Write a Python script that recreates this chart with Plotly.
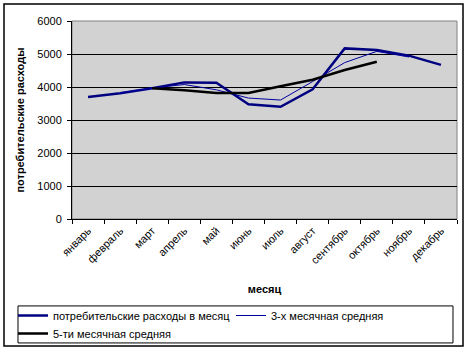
import plotly.graph_objects as go

months = ["январь", "февраль", "март", "апрель", "май", "июнь", "июль",
          "август", "сентябрь", "октябрь", "ноябрь", "декабрь"]
spending = [3700, 3810, 3960, 4140, 4130, 3475, 3400, 3930, 5170, 5120, 4950, 4670]
avg3 = [None, 3825, 3970, 4075, 3915, 3665, 3605, 4165, 4740, 5080, 4910, None]
avg5 = [None, None, 3960, 3905, 3820, 3820, 4020, 4220, 4515, 4765, None, None]

names = ["потребительские расходы в месяц", "3-х месячная средняя", "5-ти месячная средняя"]
FONT = "Arial, Liberation Sans, sans-serif"
W, H = 468, 351

fig = go.Figure()
fig.add_trace(go.Scatter(x=months, y=spending, name=names[0], mode="lines",
                         line=dict(color="#000080", width=2.5), legend="legend"))
fig.add_trace(go.Scatter(x=months, y=avg3, name=names[1], mode="lines",
                         line=dict(color="#0000A0", width=1), legend="legend2"))
fig.add_trace(go.Scatter(x=months, y=avg5, name=names[2], mode="lines",
                         line=dict(color="#000000", width=2.5), legend="legend3"))


def leg(xpx, ypx):
    return dict(orientation="h", xref="container", yref="container",
                x=xpx / W, y=(H - ypx) / H, xanchor="left", yanchor="top",
                borderwidth=0, bgcolor="rgba(0,0,0,0)",
                font=dict(family=FONT, size=11), itemwidth=30)


fig.update_layout(
    width=W, height=H,
    margin=dict(l=72, r=11, t=21, b=132),
    paper_bgcolor="white",
    plot_bgcolor="#d2d2d2",
    font=dict(family=FONT, size=11, color="black"),
    showlegend=True,
    legend=leg(13, 301),
    legend2=leg(231, 301),
    legend3=leg(13, 319),
    xaxis=dict(type="category", tickangle=-45, tickson="boundaries",
               range=[-0.5, 11.5], automargin=False,
               ticks="outside", ticklen=4, tickcolor="black",
               showline=True, linecolor="black", linewidth=1, mirror=False,
               showgrid=False, tickfont=dict(size=11),
               title=dict(text="<b>месяц</b>", font=dict(size=11), standoff=20)),
    yaxis=dict(range=[0, 6000], dtick=1000, ticks="outside", ticklen=4,
               automargin=False, ticklabelstandoff=3,
               tickcolor="black", showline=True, linecolor="black", linewidth=1,
               showgrid=True, gridcolor="black", gridwidth=1, zeroline=False,
               tickfont=dict(size=11),
               title=dict(text="<b>потребительские расходы</b>", font=dict(size=11),
                          standoff=10)),
)

# outer chart frame
fig.add_shape(type="rect", xref="paper", yref="paper",
              x0=-0.1766, x1=1.0156, y0=-0.641, y1=1.0859,
              line=dict(color="black", width=1.5))
# legend frame
fig.add_shape(type="rect", xref="paper", yref="paper",
              x0=-0.1403, x1=0.9896, y0=-0.626, y1=-0.439,
              line=dict(color="black", width=1))
# plot-area border (gray)
fig.add_shape(type="rect", xref="paper", yref="paper", x0=0, x1=1, y0=0, y1=1,
              line=dict(color="#808080", width=1), layer="below")

fig.write_html("out.html")
